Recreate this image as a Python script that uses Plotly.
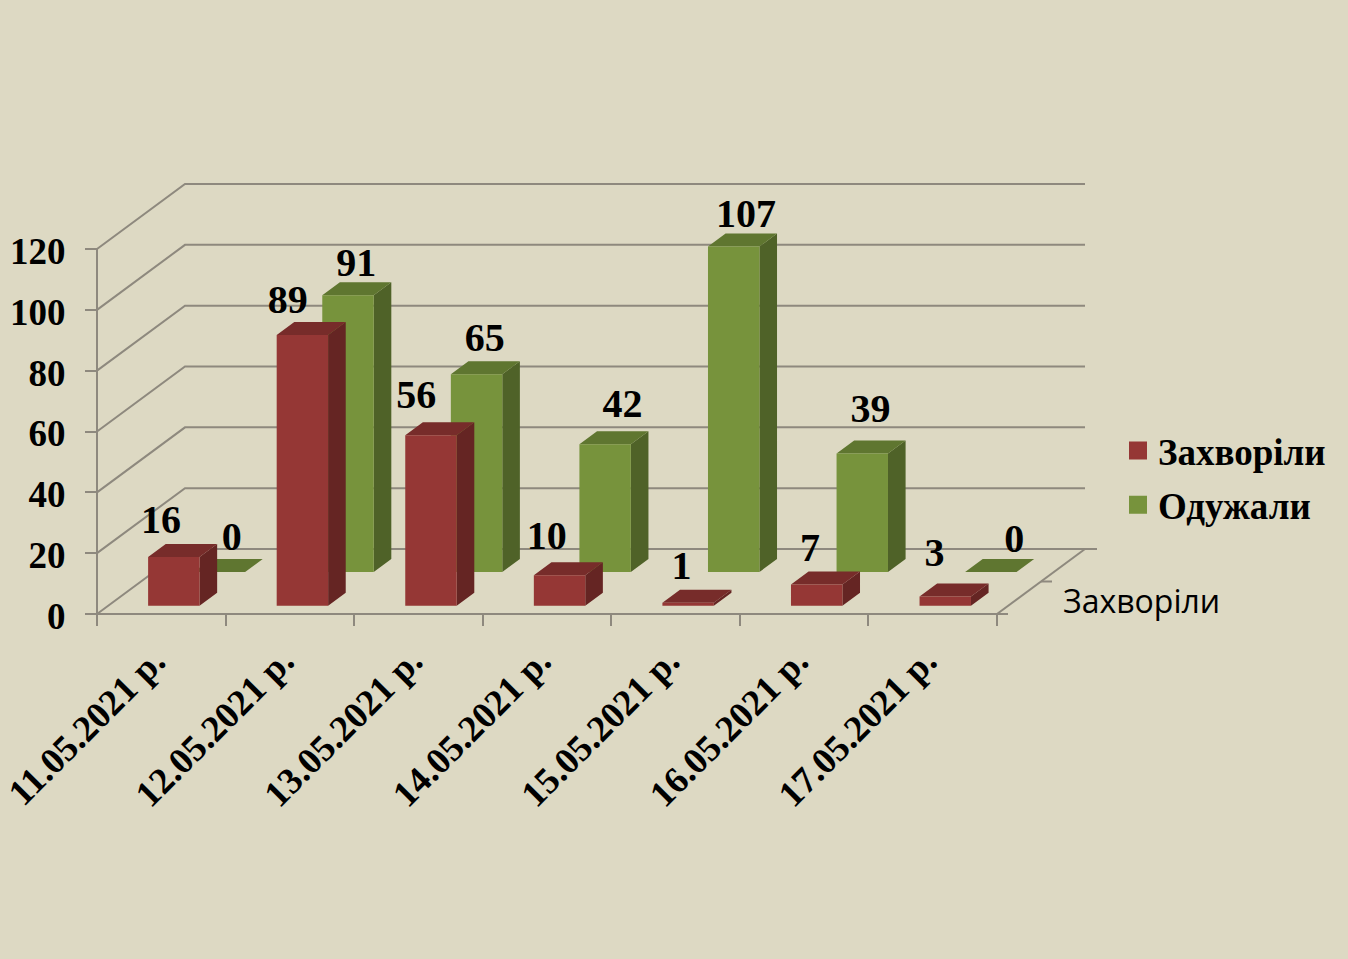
import plotly.graph_objects as go

# ---- data ----
dates = ["11.05.2021 р.", "12.05.2021 р.", "13.05.2021 р.", "14.05.2021 р.",
         "15.05.2021 р.", "16.05.2021 р.", "17.05.2021 р."]
sick = [16, 89, 56, 10, 1, 7, 3]
recovered = [0, 91, 65, 42, 107, 39, 0]
y_ticks = [0, 20, 40, 60, 80, 100, 120]
series_names = ["Захворіли", "Одужали"]

# ---- style ----
W, H = 1348, 959
ORIGIN_X, ORIGIN_Y = 97, 614    # where the value axis meets the date axis, px
BG = "#DDD9C3"
GRID = "#8E897E"
SERIF = "Liberation Serif"
RED = ("#953735", "#772C2A", "#652523")      # front, top, side
GREEN = ("#77933C", "#5F7630", "#4F6228")
PX_X = 900 / 7
PX_Y = 365 / 120
DEPTH_X = 88 / PX_X       # full floor depth in x units
DEPTH_Y = 65 / PX_Y       # full floor depth in value units
GAP = 0.31
BAR_W = 0.40
BAR_D = 0.20
Z_RED = 0.128
Z_GREEN = 0.646
# hand nudges of the value labels (px from bar's front-left top corner)
RED_DX = [13, 11, 11, 13, 19, 19, 15]
RED_DY = [34, 32, 37, 36, 34, 33, 41]
GREEN_DX = [38, 34, 34, 43, 38, 34, 49]
GREEN_DY = [32, 29, 33, 37, 30, 41, 30]

fig = go.Figure()


def line(xs, ys):
    fig.add_trace(go.Scatter(x=xs, y=ys, mode="lines", showlegend=False, hoverinfo="skip",
                             line=dict(color=GRID, width=2)))


n = len(dates)
for v in y_ticks:
    end = n + DEPTH_X + (12 / PX_X if v == 0 else 0)
    line([0, DEPTH_X, end], [v, v + DEPTH_Y, v + DEPTH_Y])
# axis lines, floor edge on the right, its tick, and the stub of the front axis
line([0, 0], [0, y_ticks[-1]])
line([0, n + 11 / PX_X], [0, 0])
line([n, n + DEPTH_X], [0, DEPTH_Y])
line([n + DEPTH_X / 2, n + DEPTH_X / 2 + 11 / PX_X], [DEPTH_Y / 2, DEPTH_Y / 2])


def faces(values, z0):
    front, top, side = ([], []), ([], []), ([], [])
    ox, oy = z0 * DEPTH_X, z0 * DEPTH_Y
    bx, by = BAR_D * DEPTH_X, BAR_D * DEPTH_Y
    for i, v in enumerate(values):
        l = i + GAP + ox
        r = l + BAR_W
        b = oy
        t = oy + v
        for f, xs, ys in (
            (front, [l, r, r, l, l], [b, b, t, t, b]),
            (top, [l, r, r + bx, l + bx, l], [t, t, t + by, t + by, t]),
            (side, [r, r + bx, r + bx, r, r], [b, b + by, t + by, t, b]),
        ):
            f[0].extend(xs + [None])
            f[1].extend(ys + [None])
    return front, top, side


def add_bars(values, z0, colors):
    front, top, side = faces(values, z0)
    for f, c in ((side, colors[2]), (top, colors[1]), (front, colors[0])):
        fig.add_trace(go.Scatter(x=f[0], y=f[1], mode="lines", fill="toself", fillcolor=c,
                                 line=dict(width=0, color=c), showlegend=False,
                                 hoverinfo="skip"))


add_bars(recovered, Z_GREEN, GREEN)
add_bars(sick, Z_RED, RED)


def add_labels(values, z0, dx, dy):
    xs = [i + GAP + z0 * DEPTH_X + dx[i] / PX_X for i in range(n)]
    ys = [values[i] + z0 * DEPTH_Y + dy[i] / PX_Y for i in range(n)]
    fig.add_trace(go.Scatter(x=xs, y=ys, mode="text", text=[str(v) for v in values],
                             textposition="middle center",
                             textfont=dict(family=SERIF, size=40, color="#000000", weight="bold"),
                             showlegend=False, hoverinfo="skip"))


add_labels(recovered, Z_GREEN, GREEN_DX, GREEN_DY)
add_labels(sick, Z_RED, RED_DX, RED_DY)

for name, c in zip(series_names, (RED[0], GREEN[0])):
    fig.add_trace(go.Scatter(x=[None], y=[None], mode="markers", name=name, legendgroup=name,
                             marker=dict(symbol="square", size=16, color=c,
                                         line=dict(color=c, width=2))))

fig.add_annotation(text=series_names[0], x=(1061 - ORIGIN_X) / PX_X, y=(ORIGIN_Y - 600) / PX_Y,
                   xref="x", yref="y", xanchor="left", yanchor="middle", showarrow=False,
                   font=dict(family="Open Sans", size=32, color="#000000"))

fig.update_layout(
    width=W, height=H, autosize=False,
    margin=dict(l=0, r=0, t=0, b=0, pad=0),
    paper_bgcolor=BG, plot_bgcolor=BG,
    xaxis=dict(range=[-ORIGIN_X / PX_X, (W - ORIGIN_X) / PX_X], domain=[0, 1],
               anchor="free", position=(H - ORIGIN_Y) / H,
               tickmode="array", tickvals=[i + 0.5 for i in range(n)], ticktext=dates,
               tickangle=-45, ticks="", showgrid=False, zeroline=False, showline=False,
               automargin=False, ticklabelstandoff=17, ticklabelshift=-7,
               tickfont=dict(family=SERIF, size=37, color="#000000", weight="bold"),
               minor=dict(tickmode="array", tickvals=list(range(n + 1)), ticks="outside",
                          ticklen=11, tickwidth=2, tickcolor=GRID, showgrid=False)),
    yaxis=dict(range=[(ORIGIN_Y - H) / PX_Y, ORIGIN_Y / PX_Y], domain=[0, 1],
               anchor="free", position=ORIGIN_X / W,
               tickmode="array", tickvals=y_ticks, ticks="outside", ticklen=12,
               tickwidth=2, tickcolor=GRID, showgrid=False, zeroline=False, showline=False,
               automargin=False, ticklabelstandoff=12, ticklabelshift=2,
               tickfont=dict(family=SERIF, size=37, color="#000000", weight="bold")),
    legend=dict(x=1118 / W, y=(H - 420) / H, xanchor="left", yanchor="top",
                bgcolor="rgba(0,0,0,0)", tracegroupgap=3, itemwidth=30,
                font=dict(family=SERIF, size=37, color="#000000", weight="bold")),
)

fig.write_html("out.html", config={"displayModeBar": False},
               post_script="document.body.style.margin='0';document.body.style.overflow='hidden';")
